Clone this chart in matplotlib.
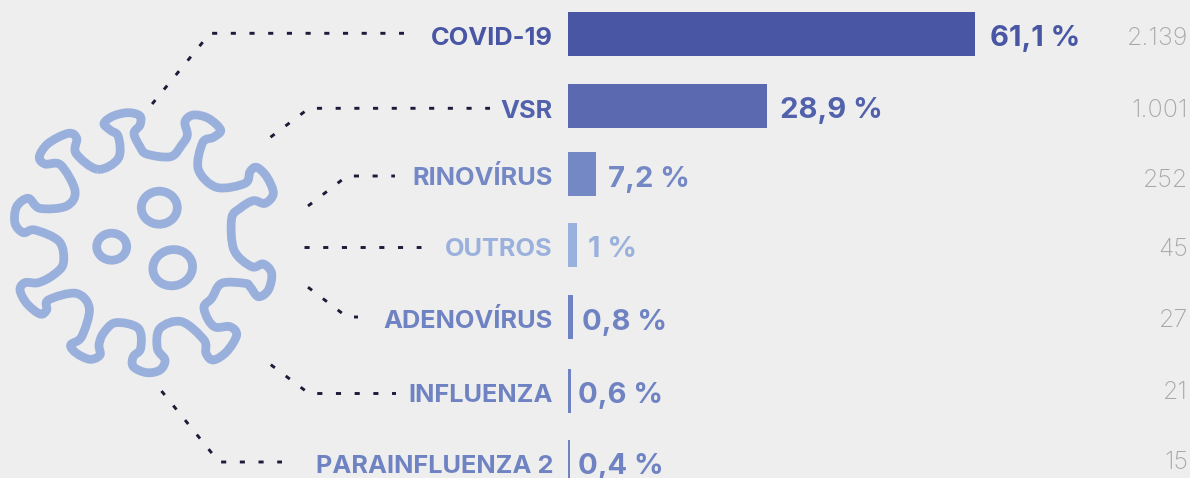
import numpy as np
import matplotlib
matplotlib.use('Agg')
import matplotlib.pyplot as plt
from matplotlib.patches import Ellipse, PathPatch
from matplotlib.path import Path

# values
labels = ['COVID-19', 'VSR', 'RINOVÍRUS', 'OUTROS', 'ADENOVÍRUS', 'INFLUENZA', 'PARAINFLUENZA 2']
pct_labels = ['61,1 %', '28,9 %', '7,2 %', '1 %', '0,8 %', '0,6 %', '0,4 %']
counts = ['2.139', '1.001', '252', '45', '27', '21', '15']
# the bars in the picture are not strictly proportional, so lengths are read directly
bar_lengths = [407, 199, 28, 9, 5, 3, 2]
bar_colors = ['#4856a4', '#5a69b0', '#7588c6', '#9bb1dd', '#6f83c3', '#6f83c3', '#6f83c3']
text_colors = ['#4856a4', '#5161ac', '#7588c6', '#9bb1dd', '#6f83c3', '#6f83c3', '#6f83c3']

# leader lines, in pixels of the reference
leaders = [
    [(152.1, 104), (210, 33.3), (404, 33.3)],
    [(270.5, 137.2), (309, 108.3), (490, 108.3)],
    [(308, 206), (347, 176), (395, 176)],
    [(304, 247), (421, 247)],
    [(308, 287.2), (347, 317), (358, 317)],
    [(270.8, 364.7), (309, 393.5), (396, 393.5)],
    [(161.5, 391), (219, 462), (282, 462)],
]

# virus outline traced on a 3x crop whose origin is (0, 90)
virus = [
    (293, 238), (355, 205), (355, 140), (330, 120), (312, 100), (340, 78), (385, 68), (420, 78), (420, 105),
    (402, 130), (420, 170), (440, 192), (512, 200), (545, 165), (562, 135), (555, 95), (580, 75), (625, 85),
    (662, 120), (640, 142), (608, 158), (595, 238), (650, 292), (735, 280), (750, 245), (770, 232), (800, 260),
    (820, 310), (795, 340), (760, 332), (720, 355), (695, 385), (702, 480), (755, 530), (790, 522), (815, 550),
    (805, 600), (775, 620), (750, 590), (735, 580), (665, 580), (635, 625), (612, 650), (625, 690), (648, 712),
    (690, 710), (710, 735), (680, 785), (640, 810), (618, 790), (612, 750), (545, 695), (480, 715), (472, 775),
    (495, 810), (480, 840), (440, 848), (400, 830), (400, 800), (422, 775), (415, 715), (347, 698), (310, 730),
    (297, 765), (300, 795), (270, 808), (230, 790), (212, 765), (245, 740), (268, 655), (228, 610), (145, 630),
    (140, 660), (120, 672), (80, 640), (60, 600), (75, 578), (115, 578), (160, 555), (190, 520), (178, 455),
    (105, 420), (70, 428), (45, 400), (50, 350), (85, 325), (120, 355), (200, 348), (225, 302), (182, 225),
    (135, 222), (118, 200), (145, 160), (205, 130), (230, 145), (228, 190),
]

fig = plt.figure(figsize=(11.9, 4.78), dpi=100, facecolor='#eeeeee')
ax = fig.add_axes([0, 0, 1, 1])
ax.set_xlim(0, 1190)
ax.set_ylim(478, 0)
ax.axis('off')

font = 'Inter'
bar_top = [12, 84, 152, 223, 295, 369, 440]
label_base = [45, 118, 185, 256, 328, 402, 473]
pct_base = [46, 118, 187, 257, 330, 403, 473.5]
count_base = [45, 117, 187, 256, 327, 399, 469]
pct_x = [990, 780, 608, 588, 582, 578, 578]

for i, lab in enumerate(labels):
    ax.barh(bar_top[i] + 22, bar_lengths[i], height=44, left=568, color=bar_colors[i], linewidth=0)
    ax.text(553, label_base[i], lab, ha='right', va='baseline', fontsize=18.3, fontweight='bold',
            color=text_colors[i], family=font)
    ax.text(pct_x[i], pct_base[i], pct_labels[i], ha='left', va='baseline', fontsize=21, fontweight='bold',
            color=text_colors[i], family=font)
    ax.text(1188, count_base[i], counts[i], ha='right', va='baseline', fontsize=18, fontweight='light',
            color='#a8a8a8', family=font)

for pts in leaders:
    xs, ys = zip(*pts)
    ax.plot(xs, ys, color='#1b1b3a', lw=2.1, dashes=(1.75, 4.66), dash_capstyle='butt')

# closed Catmull-Rom spline through the traced points
pts = np.array(virus, dtype=float) / 3 + np.array([0, 90])
n = len(pts)
verts = [pts[0]]
codes = [Path.MOVETO]
for i in range(n):
    p0, p1, p2, p3 = pts[i - 1], pts[i], pts[(i + 1) % n], pts[(i + 2) % n]
    verts += [p1 + (p2 - p0) / 6, p2 - (p3 - p1) / 6, p2]
    codes += [Path.CURVE4] * 3
ax.add_patch(PathPatch(Path(verts, codes), fill=False, edgecolor='#9ab0dc', lw=6.3, joinstyle='round'))

ax.add_patch(Ellipse((159.3, 207.7), 36, 33, fill=False, edgecolor='#9ab0dc', lw=6.3))
ax.add_patch(Ellipse((111.7, 246.7), 30, 27, fill=False, edgecolor='#9ab0dc', lw=6.3))
ax.add_patch(Ellipse((172.7, 267.7), 40, 36, angle=-15, fill=False, edgecolor='#9ab0dc', lw=6.3))

fig.savefig('out.png', dpi=100, facecolor=fig.get_facecolor())
